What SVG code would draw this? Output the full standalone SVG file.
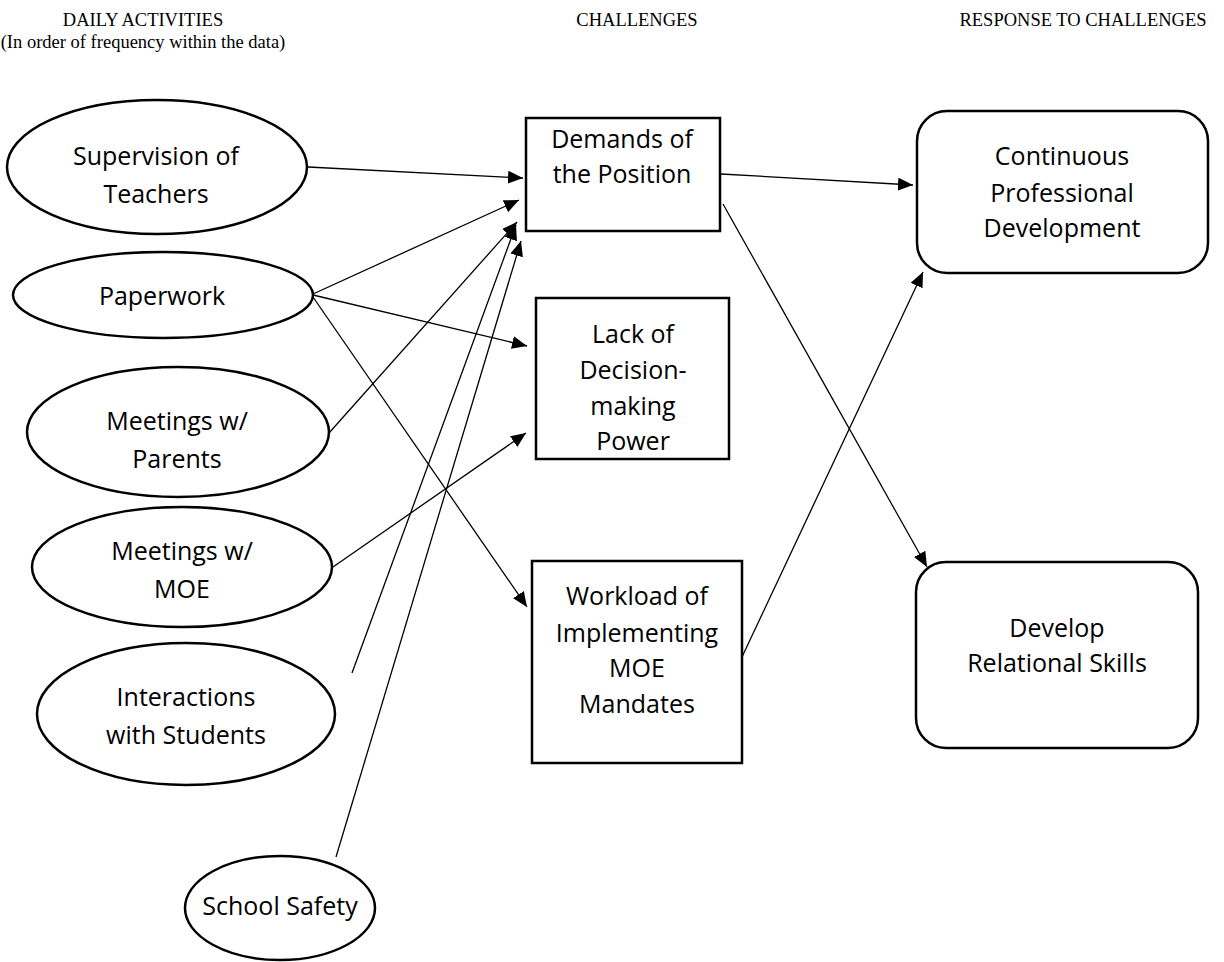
<svg xmlns="http://www.w3.org/2000/svg" width="1224" height="962" viewBox="0 0 1224 962">
<style>
.hdr{font-family:"Liberation Serif","Times New Roman",serif;font-size:18.5px;fill:#000;text-anchor:middle}
.lbl{font-family:"Open Sans","Noto Sans",sans-serif;font-size:25px;fill:#000;text-anchor:middle}
.shape{fill:#fff;stroke:#000;stroke-width:2.5}
.conn{stroke:#000;stroke-width:1.3;fill:none;marker-end:url(#arr)}
</style>
<defs>
<marker id="arr" markerUnits="userSpaceOnUse" markerWidth="16" markerHeight="14" refX="15" refY="6.5" orient="auto">
<path d="M0,0 L15,6.5 L0,13 z" fill="#000"/>
</marker>
</defs>
<rect width="1224" height="962" fill="#fff"/>
<g id="headers">
<text class="hdr" x="143" y="26">DAILY ACTIVITIES</text>
<text class="hdr" x="143" y="48">(In order of frequency within the data)</text>
<text class="hdr" x="637" y="26">CHALLENGES</text>
<text class="hdr" x="1083" y="26">RESPONSE TO CHALLENGES</text>
</g>
<g id="connectors">
<line class="conn" x1="308" y1="167" x2="523" y2="178"/>
<line class="conn" x1="313" y1="294" x2="519" y2="200"/>
<line class="conn" x1="313" y1="295" x2="527" y2="346"/>
<line class="conn" x1="313" y1="297" x2="527" y2="607"/>
<line class="conn" x1="329" y1="433" x2="517" y2="222"/>
<line class="conn" x1="333" y1="567" x2="526" y2="433"/>
<line class="conn" x1="352" y1="673" x2="516" y2="225"/>
<line class="conn" x1="336" y1="857" x2="521" y2="241"/>
<line class="conn" x1="721" y1="174" x2="913" y2="185"/>
<line class="conn" x1="723" y1="204" x2="927" y2="567"/>
<line class="conn" x1="742" y1="657" x2="923" y2="272"/>
</g>
<g id="supervision">
<ellipse class="shape" cx="157" cy="167" rx="150" ry="67"/>
<text class="lbl" x="156" y="165">Supervision of</text>
<text class="lbl" x="156" y="203">Teachers</text>
</g>
<g id="paperwork">
<ellipse class="shape" cx="163" cy="295" rx="150" ry="43"/>
<text class="lbl" x="162" y="305">Paperwork</text>
</g>
<g id="meetings-parents">
<ellipse class="shape" cx="178" cy="432" rx="151" ry="65"/>
<text class="lbl" x="177" y="430">Meetings w/</text>
<text class="lbl" x="177" y="468">Parents</text>
</g>
<g id="meetings-moe">
<ellipse class="shape" cx="182" cy="567" rx="150" ry="60"/>
<text class="lbl" x="182" y="560">Meetings w/</text>
<text class="lbl" x="182" y="598">MOE</text>
</g>
<g id="interactions">
<ellipse class="shape" cx="186" cy="714" rx="149" ry="71"/>
<text class="lbl" x="186" y="706">Interactions</text>
<text class="lbl" x="186" y="744">with Students</text>
</g>
<g id="school-safety">
<ellipse class="shape" cx="280" cy="908" rx="95" ry="52"/>
<text class="lbl" x="280" y="915">School Safety</text>
</g>
<g id="demands">
<rect class="shape" x="526" y="118" width="194" height="113"/>
<text class="lbl" x="622" y="148">Demands of</text>
<text class="lbl" x="622" y="183">the Position</text>
</g>
<g id="lack">
<rect class="shape" x="536" y="298" width="193" height="161"/>
<text class="lbl" x="633" y="343">Lack of</text>
<text class="lbl" x="633" y="379">Decision-</text>
<text class="lbl" x="633" y="415">making</text>
<text class="lbl" x="633" y="450">Power</text>
</g>
<g id="workload">
<rect class="shape" x="532" y="561" width="210" height="202"/>
<text class="lbl" x="637" y="605">Workload of</text>
<text class="lbl" x="637" y="642">Implementing</text>
<text class="lbl" x="637" y="677">MOE</text>
<text class="lbl" x="637" y="713">Mandates</text>
</g>
<g id="continuous">
<rect class="shape" x="917" y="111" width="291" height="162" rx="30" ry="30"/>
<text class="lbl" x="1062" y="165">Continuous</text>
<text class="lbl" x="1062" y="202">Professional</text>
<text class="lbl" x="1062" y="237">Development</text>
</g>
<g id="develop">
<rect class="shape" x="916" y="562" width="282" height="186" rx="30" ry="30"/>
<text class="lbl" x="1057" y="637">Develop</text>
<text class="lbl" x="1057" y="672">Relational Skills</text>
</g>
</svg>
